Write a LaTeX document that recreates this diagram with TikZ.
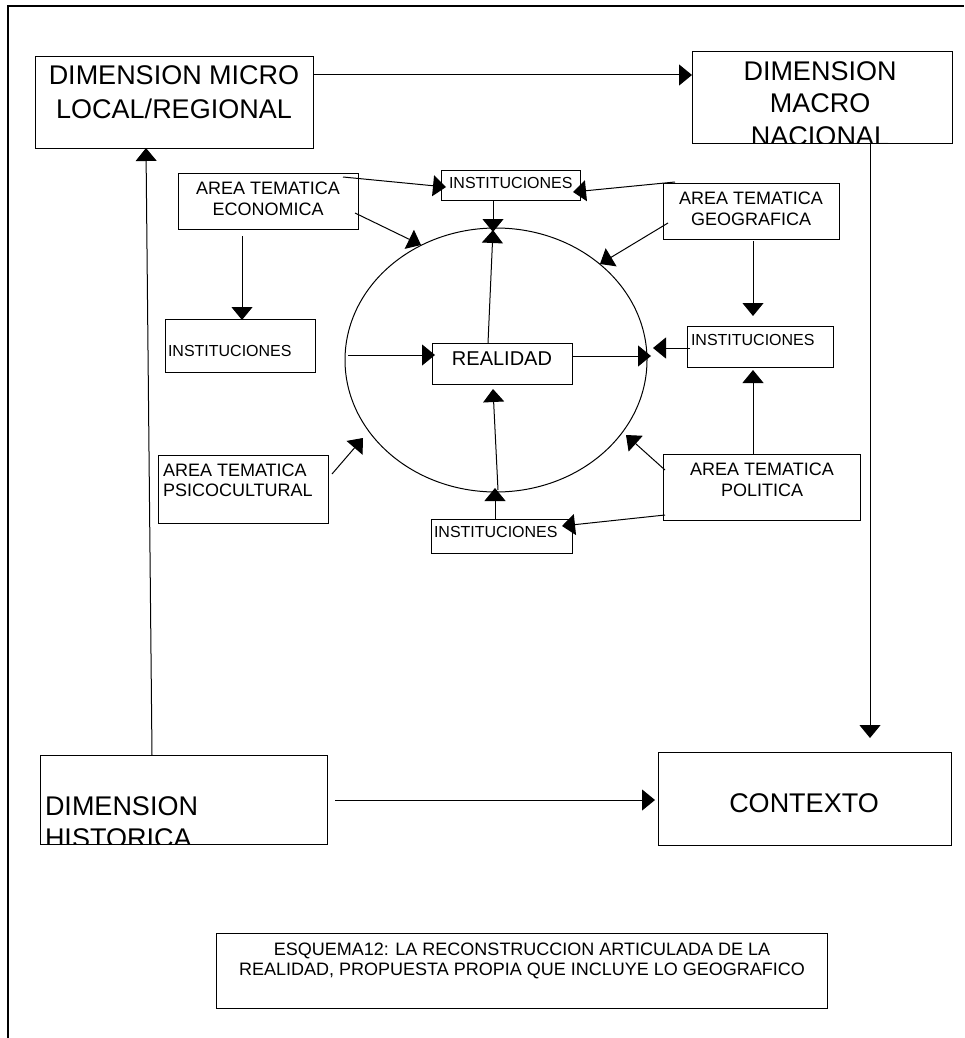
\documentclass[tikz,border=0pt]{standalone}
\usepackage{fontspec}
\setmainfont{Liberation Sans}
\usetikzlibrary{arrows.meta,shapes.geometric}
\begin{document}
\begin{tikzpicture}[x=1pt,y=-1pt,
  every node/.style={inner sep=0pt, outer sep=0pt},
  box/.style={draw, line width=1pt, anchor=north west},
  conn/.style={line width=1pt, -{Triangle[length=13pt,width=21pt]}},
  big/.style={font=\fontsize{27}{32}\selectfont},
  mid/.style={font=\fontsize{18}{21}\selectfont},
  small/.style={font=\fontsize{16}{19}\selectfont},
  rtxt/.style={font=\fontsize{20}{24}\selectfont},
]
\useasboundingbox (0,0) rectangle (964,1038);
\fill[white] (0,0) rectangle (964,1038);
\draw[line width=1.3pt] (8,1038) -- (8,6) -- (964,6);

% ---------- boxes ----------
\node[box, minimum width=278pt, minimum height=91pt] (micro) at (35,57) {};
\node[box, minimum width=260pt, minimum height=91pt] (macro) at (692,52) {};
\node[box, minimum width=180pt, minimum height=56pt] (econ) at (178,173) {};
\node[box, minimum width=139pt, minimum height=30pt] (instT) at (441,170) {};
\node[box, minimum width=176pt, minimum height=56pt] (geo) at (663,183) {};
\node[box, minimum width=150pt, minimum height=53pt] (instL) at (165,319) {};
\node[box, minimum width=140pt, minimum height=41pt] (realidad) at (432,343) {};
\node[box, minimum width=146pt, minimum height=41pt] (instR) at (687,326) {};
\node[box, minimum width=170pt, minimum height=68pt] (psico) at (158,455) {};
\node[box, minimum width=197pt, minimum height=66pt] (politica) at (663,454) {};
\node[box, minimum width=141pt, minimum height=34pt] (instB) at (431,519) {};
\node[box, minimum width=287pt, minimum height=89pt] (hist) at (40,755) {};
\node[box, minimum width=293pt, minimum height=93pt] (contexto) at (658,752) {};
\node[box, minimum width=611pt, minimum height=75pt] (caption) at (216,933) {};
\node[draw, line width=1pt, ellipse, minimum width=302pt, minimum height=264pt] (circ) at (496,360) {};

% ---------- texts ----------
\node[big, anchor=base] (microA) at (174,85) {DIMENSION MICRO};
\node[big, anchor=base] (microB) at (174,118) {LOCAL/REGIONAL};
\begin{scope}
  \clip (692,52) rectangle (952,143);
  \node[big, anchor=base] (macroA) at (820,81) {DIMENSION};
  \node[big, anchor=base] (macroB) at (820,113) {MACRO};
  \node[big, anchor=base] (macroC) at (820,145) {NACIONAL};
\end{scope}
\node[mid, anchor=base] (econA) at (268,194) {AREA TEMATICA};
\node[mid, anchor=base] (econB) at (268,215) {ECONOMICA};
\node[small, anchor=base west] (instTt) at (449,188) {INSTITUCIONES};
\node[mid, anchor=base] (geoA) at (751,204) {AREA TEMATICA};
\node[mid, anchor=base] (geoB) at (751,225) {GEOGRAFICA};
\node[small, anchor=base west] (instLt) at (168,356) {INSTITUCIONES};
\node[rtxt, anchor=base] (realidadt) at (502,365) {REALIDAD};
\node[small, anchor=base west] (instRt) at (691,345) {INSTITUCIONES};
\node[mid, anchor=base west] (psicoA) at (163,476) {AREA TEMATICA};
\node[mid, anchor=base west] (psicoB) at (163,496) {PSICOCULTURAL};
\node[mid, anchor=base] (politicaA) at (762,475) {AREA TEMATICA};
\node[mid, anchor=base] (politicaB) at (762,496) {POLITICA};
\node[small, anchor=base west] (instBt) at (434,537) {INSTITUCIONES};
\begin{scope}
  \clip (40,755) rectangle (327,844);
  \node[big, anchor=base west] (histA) at (45,815) {DIMENSION};
  \node[big, anchor=base west] (histB) at (45,847) {HISTORICA};
\end{scope}
\node[big, anchor=base] (contextot) at (804,812) {CONTEXTO};
\node[mid, anchor=base] (capA) at (522,955) {ESQUEMA12: LA RECONSTRUCCION ARTICULADA DE LA};
\node[mid, anchor=base] (capB) at (522,975) {REALIDAD, PROPUESTA PROPIA QUE INCLUYE LO GEOGRAFICO};

% ---------- connector end points ----------
\coordinate (micro-e) at (313,75);   \coordinate (macro-w) at (692,75);
\coordinate (macro-s) at (870,143);  \coordinate (contexto-n) at (870,738);
\coordinate (econ-ne) at (343,177);  \coordinate (instT-w) at (446,187);
\coordinate (econ-e) at (355,213);   \coordinate (circ-nw) at (421,245);
\coordinate (econ-s) at (242,236);   \coordinate (instL-n) at (242,320);
\coordinate (geo-nw) at (675,182);   \coordinate (instT-e) at (573,192);
\coordinate (geo-w) at (668,223);    \coordinate (circ-ne) at (600,264);
\coordinate (geo-s) at (753,241);    \coordinate (instR-n) at (753,316);
\coordinate (instR-w) at (690,348);  \coordinate (circ-e2) at (653,348);
\coordinate (pol-n) at (753,454);    \coordinate (instR-s) at (753,370);
\coordinate (pol-w) at (665,470);    \coordinate (circ-se) at (626,435);
\coordinate (pol-sw) at (665,515);   \coordinate (instB-e) at (562,526);
\coordinate (instB-n) at (495,519);  \coordinate (circ-s) at (495,488);
\coordinate (circ-s2) at (498,490);  \coordinate (realidad-s) at (493,389);
\coordinate (circ-w) at (348,355);   \coordinate (realidad-w) at (435,355);
\coordinate (realidad-e) at (572,356); \coordinate (circ-e) at (651,356);
\coordinate (realidad-n) at (488,343); \coordinate (circ-n) at (493,230);
\coordinate (instT-s) at (493,200);  \coordinate (circ-n2) at (493,232);
\coordinate (psico-ne) at (332,474); \coordinate (circ-sw) at (363,438);
\coordinate (hist-n) at (152,755);   \coordinate (micro-s) at (146,148);
\coordinate (hist-e) at (335,800);   \coordinate (contexto-w) at (655,800);

% ---------- connectors ----------
\draw[conn] (micro-e) -- (macro-w);
\draw[conn] (macro-s) -- (contexto-n);
\draw[conn] (econ-ne) -- (instT-w);
\draw[conn] (econ-e) -- (circ-nw);
\draw[conn] (econ-s) -- (instL-n);
\draw[conn] (geo-nw) -- (instT-e);
\draw[conn] (geo-w) -- (circ-ne);
\draw[conn] (geo-s) -- (instR-n);
\draw[conn] (instR-w) -- (circ-e2);
\draw[conn] (pol-n) -- (instR-s);
\draw[conn] (pol-w) -- (circ-se);
\draw[conn] (pol-sw) -- (instB-e);
\draw[conn] (instB-n) -- (circ-s);
\draw[conn] (circ-s2) -- (realidad-s);
\draw[conn] (circ-w) -- (realidad-w);
\draw[conn] (realidad-e) -- (circ-e);
\draw[conn] (realidad-n) -- (circ-n);
\draw[conn] (instT-s) -- (circ-n2);
\draw[conn] (psico-ne) -- (circ-sw);
\draw[conn] (hist-n) -- (micro-s);
\draw[conn] (hist-e) -- (contexto-w);
\end{tikzpicture}
\end{document}
